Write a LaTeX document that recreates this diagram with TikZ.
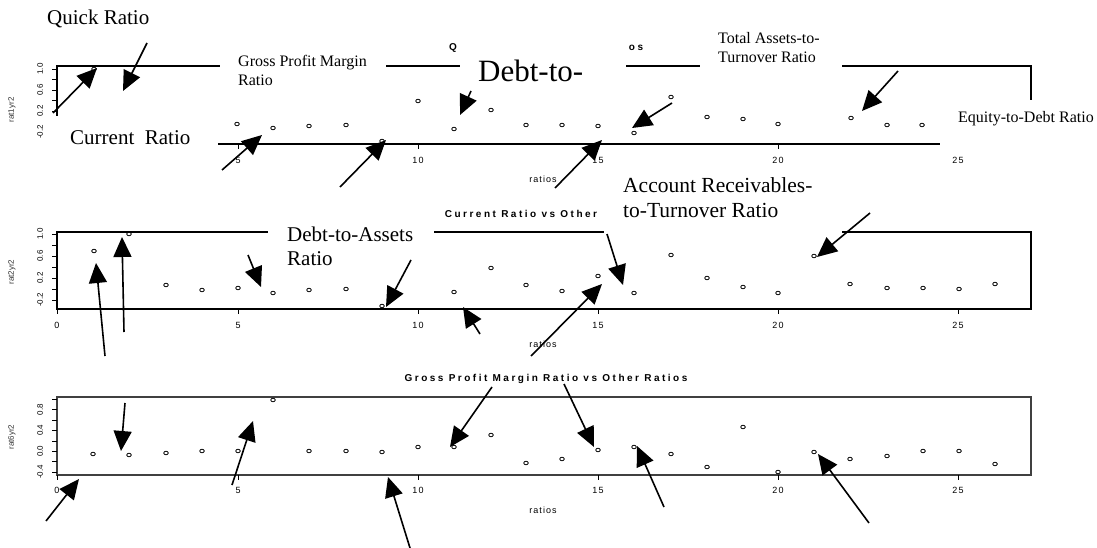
\documentclass[tikz,border=0pt]{standalone}
\usepackage{fontspec}
\setmainfont{Liberation Serif}
\newfontfamily\plotfont[LetterSpace=12]{Liberation Sans}
\newfontfamily\axisfont{Liberation Sans}
\newfontfamily\titlefont[LetterSpace=25]{Liberation Sans}
\usetikzlibrary{arrows.meta}
\begin{document}
\begin{tikzpicture}[x=1pt,y=-1pt,
  frame/.style={line width=1.2pt,line cap=rect},
  tickmark/.style={line width=0.9pt},
  pt/.style={draw,line width=0.8pt},
  ticklab/.style={inner sep=0pt,font=\plotfont\fontsize{9}{10}\selectfont},
  ylab/.style={inner sep=0pt,rotate=90,font=\axisfont\fontsize{8}{9}\selectfont},
  axname/.style={inner sep=0pt,rotate=90,text=black!80,font=\axisfont\fontsize{8}{9}\selectfont},
  plottitle/.style={inner sep=0pt,font=\titlefont\bfseries\fontsize{10}{11}\selectfont},
  biglabel/.style={inner sep=0pt,anchor=base west,align=left,font=\fontsize{21}{24}\selectfont},
  smalllabel/.style={inner sep=0pt,anchor=base west,align=left,font=\fontsize{16}{19}\selectfont},
  callout/.style={line width=1.6pt,-{Triangle[length=20pt,width=18pt]}}]
\useasboundingbox (0,0) rectangle (1097,548);

% ---------- panel 1: rat1yr2 ----------
\draw[frame] (57,115) -- (57,66) -- (219,66);
\draw[frame] (387,66) -- (459,66);
\draw[frame] (627,66) -- (699,66);
\draw[frame] (843,66) -- (1031,66) -- (1031,99);
\draw[frame] (219,144) -- (939,144);
\foreach \y in {69,79.5,90,100.5,111} \draw[tickmark] (52,\y) -- (57,\y);
\foreach \x in {238,418,598,778} \draw[tickmark] (\x,144) -- (\x,149);
\foreach \y/\l/\n in {69/1.0/a,90/0.6/b,111/0.2/c,132/-0.2/d}
  \node[ylab] (p1y\n) at (40,\y) {\l};
\foreach \x/\l in {238/5,418/10,598/15,778/20,958/25}
  \node[ticklab] (p1x\l) at (\x,160) {\l};
\node[ticklab] (p1xname) at (543,179) {ratios};
\node[axname] (p1yname) at (12,110) {rat1yr2};
\node[plottitle] (p1ta) at (453,48) {Q};
\node[plottitle] (p1tb) at (636,48) {os};
\foreach \p in {(94,69),(237,124),(273,128),(309,126),(346,125),(382,141),
  (418,101),(454,129),(491,110),(526,125),(562,125),(598,126),(634,133),
  (671,97),(707,117),(743,119),(778,124),(851,118),(887,125),(922,125)}
  \draw[pt] \p ellipse [x radius=2.3pt,y radius=1.8pt];

% ---------- panel 2: rat2yr2 ----------
\draw[frame] (267,232) -- (57,232) -- (57,309) -- (1031,309) -- (1031,232) -- (843,232);
\draw[frame] (435,232) -- (603,232);
\foreach \y in {234,245,256,267,278,289,300} \draw[tickmark] (52,\y) -- (57,\y);
\foreach \x in {57,238,418,598,778,958} \draw[tickmark] (\x,309) -- (\x,314);
\foreach \y/\l/\n in {234/1.0/a,256/0.6/b,278/0.2/c,300/-0.2/d}
  \node[ylab] (p2y\n) at (40,\y) {\l};
\foreach \x/\l in {57/0,238/5,418/10,598/15,778/20,958/25}
  \node[ticklab] (p2x\l) at (\x,325) {\l};
\node[ticklab] (p2xname) at (543,344) {ratios};
\node[axname] (p2yname) at (12,272) {rat2yr2};
\node[plottitle] (p2t) at (521,214) {Current Ratio vs Other};
\foreach \p in {(94,251),(129,234),(166,285),(202,290),(238,288),(273,293),
  (309,290),(346,289),(382,306),(454,292),(491,268),(526,285),(562,291),
  (598,276),(634,293),(671,255),(707,278),(743,287),(778,293),(814,256),
  (850,284),(887,288),(923,288),(959,289),(995,284)}
  \draw[pt] \p ellipse [x radius=2.3pt,y radius=1.8pt];

% ---------- panel 3: rat6yr2 ----------
\draw[frame,black!75] (57,397) rectangle (1031,475);
\foreach \y in {399,409.6,420,430.4,441,451.2,461.6,472} \draw[tickmark] (52,\y) -- (57,\y);
\foreach \x in {57,238,418,598,778,958} \draw[tickmark] (\x,475) -- (\x,480);
\foreach \y/\l/\n in {409.6/0.8/a,430.4/0.4/b,451.2/0.0/c,472/-0.4/d}
  \node[ylab] (p3y\n) at (40,\y) {\l};
\foreach \x/\l in {57/0,238/5,418/10,598/15,778/20,958/25}
  \node[ticklab] (p3x\l) at (\x,490) {\l};
\node[ticklab] (p3xname) at (543,510) {ratios};
\node[axname] (p3yname) at (12,437) {rat6yr2};
\node[plottitle] (p3t) at (546,379) {Gross Profit Margin Ratio vs Other Ratios};
\foreach \p in {(93,454),(129,455),(166,453),(202,451),(238,451),(273,400),
  (309,451),(346,451),(382,452),(418,447),(454,447),(491,435),(526,463),
  (562,459),(598,450),(634,447),(671,454),(707,467),(743,427),(778,472),
  (814,452),(850,459),(887,456),(923,451),(959,451),(995,464)}
  \draw[pt] \p ellipse [x radius=2.3pt,y radius=1.8pt];

% ---------- ratio labels (anchor = baseline of the last line) ----------
\node[biglabel] (quick) at (47,25) {Quick Ratio};
\node[biglabel] (current) at (70,145) {Current\ \ Ratio};
\node[smalllabel] (gpm) at (238,86) {Gross Profit Margin\\Ratio};
\node[inner sep=0pt,anchor=base west,font=\fontsize{31}{34}\selectfont] (debt) at (478,82) {Debt-to-};
\node[smalllabel] (tat) at (718,63) {Total Assets-to-\\Turnover Ratio};
\node[smalllabel] (eqd) at (958,123) {Equity-to-Debt Ratio};
\node[biglabel] (dta) at (287,265) {Debt-to-Assets\\Ratio};
\node[biglabel,font=\fontsize{21.5}{25}\selectfont] (acr) at (623,218) {Account Receivables-\\to-Turnover Ratio};

% ---------- callout arrows: name / tail x,y / tip x,y ----------
\foreach \n/\xa/\ya/\xb/\yb in {
  a1/53/113/97/68, a2/147/43/123/91, a3/222/170/262/135,
  a4/340/187/386/140, a5/471/91/460/115, a6/555/188/602/140,
  a7/672/103/632/128, a8/898/71/862/111,
  b1/105/356/96/263, b2/124/332/122/237, b3/248/255/261/287,
  b4/411/260/386/307, b5/480/334/463/307, b6/531/356/602/284,
  b7/607/234/623/285, b8/870/213/817/257,
  c1/125/403/121/451, c2/232/485/253/421, c3/46/521/79/479,
  c4/492/387/450/447, c5/564/384/594/447, c6/410/548/388/477,
  c7/664/507/637/446, c8/869/523/818/454}
{
  \coordinate (\n-tail) at (\xa,\ya);
  \coordinate (\n-tip) at (\xb,\yb);
  \draw[callout] (\n-tail) -- (\n-tip);
}
\end{tikzpicture}
\end{document}
